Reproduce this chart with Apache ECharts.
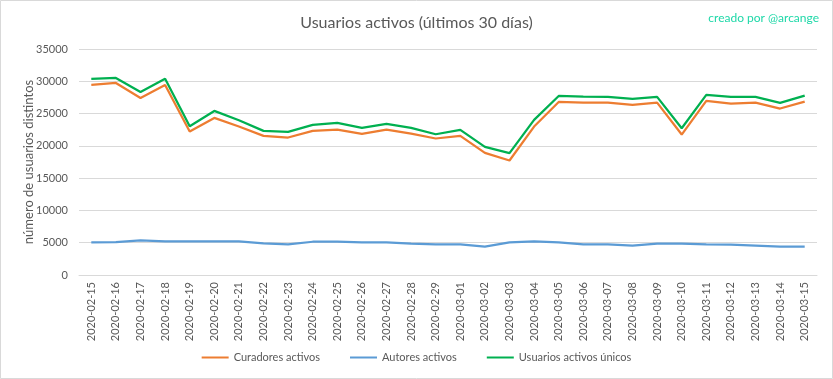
<!DOCTYPE html>
<html><head><meta charset="utf-8">
<script src="https://cdn.jsdelivr.net/npm/echarts@6/dist/echarts.min.js"></script>
<style>html,body{margin:0;padding:0;background:#fff}#c{width:833px;height:379px}</style>
</head><body><div id="c"></div>
<script>
const categories = ["2020-02-15","2020-02-16","2020-02-17","2020-02-18","2020-02-19","2020-02-20","2020-02-21","2020-02-22","2020-02-23","2020-02-24","2020-02-25","2020-02-26","2020-02-27","2020-02-28","2020-02-29","2020-03-01","2020-03-02","2020-03-03","2020-03-04","2020-03-05","2020-03-06","2020-03-07","2020-03-08","2020-03-09","2020-03-10","2020-03-11","2020-03-12","2020-03-13","2020-03-14","2020-03-15"];
const curadores = [29430,29740,27420,29430,22220,24330,22990,21550,21290,22320,22530,21860,22530,21910,21140,21550,18920,17730,22990,26800,26700,26700,26340,26700,21750,26960,26550,26700,25780,26860];
const autores = [5050,5100,5360,5200,5200,5200,5200,4900,4740,5150,5150,5050,5050,4850,4740,4740,4380,5050,5200,5050,4740,4740,4540,4850,4850,4740,4690,4540,4380,4380];
const unicos = [30360,30520,28350,30400,23040,25410,23970,22320,22170,23250,23560,22790,23400,22790,21800,22480,19850,18870,24020,27730,27630,27580,27270,27580,22730,27890,27580,27580,26650,27790];
const seriesNames = ["Curadores activos","Autores activos","Usuarios activos únicos"];
const colors = ["#ED7D31","#5B9BD5","#00B050"];
const FONT = "Lato";
const chart = echarts.init(document.getElementById('c'), null, {renderer:'canvas'});
chart.setOption({
  animation:false,
  backgroundColor:'#fff',
  color: colors,
  textStyle:{fontFamily:FONT},
  title:[
    {text:'Usuarios activos (últimos 30 días)', left:'center', top:10, textStyle:{fontFamily:FONT, fontSize:16, fontWeight:'normal', color:'#595959'}},
    {text:'creado por @arcange', right:9, top:7, textStyle:{fontFamily:FONT, fontSize:12, fontWeight:'normal', color:'#1ED8A8'}}
  ],
  graphic:[{type:'rect', shape:{x:0.5,y:0.5,width:832,height:378}, style:{fill:'none', stroke:'#D9D9D9', lineWidth:1}, silent:true}],
  legend:{bottom:11, left:'center', itemWidth:27, itemHeight:2, itemGap:30, icon:'rect',
    textStyle:{fontFamily:FONT, fontSize:11, color:'#595959'}, data:seriesNames},
  grid:{left:79, right:16, top:49, bottom:104},
  xAxis:{type:'category', data:categories, boundaryGap:true,
    axisLine:{lineStyle:{color:'#D9D9D9'}}, axisTick:{show:false},
    axisLabel:{rotate:90, interval:0, fontFamily:FONT, fontSize:11, color:'#595959', margin:7}},
  yAxis:{type:'value', min:0, max:35000, interval:5000,
    name:'número de usuarios distintos', nameLocation:'middle', nameGap:44, nameRotate:90, nameMoveOverlap:false,
    nameTextStyle:{fontFamily:FONT, fontSize:13, color:'#595959'},
    axisLine:{show:false}, axisTick:{show:false},
    splitLine:{lineStyle:{color:'#D9D9D9'}},
    axisLabel:{fontFamily:FONT, fontSize:11, color:'#595959', margin:11, formatter:v=>String(v)}},
  series: [curadores, autores, unicos].map((d,i)=>({
    name:seriesNames[i], type:'line', data:d, symbol:'none', lineStyle:{width:2.25, color:colors[i]}
  }))
});
</script></body></html>
